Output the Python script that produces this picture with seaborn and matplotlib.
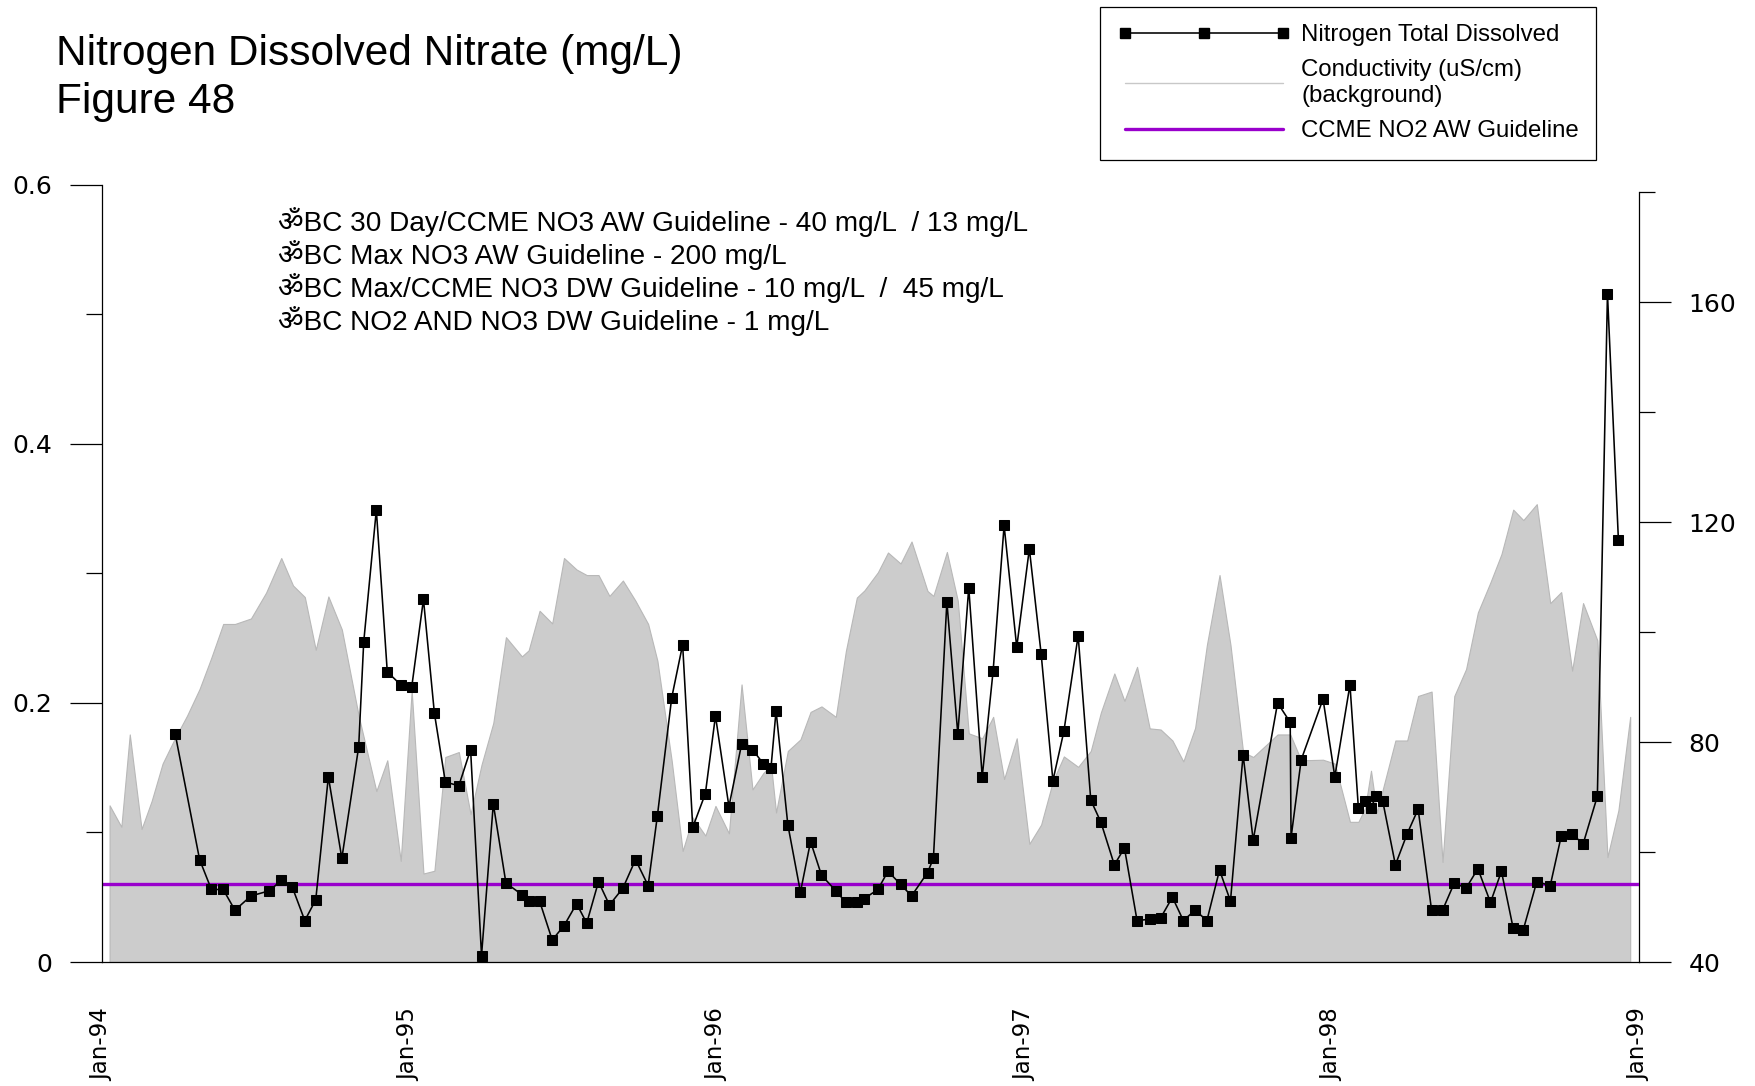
import matplotlib
matplotlib.use("Agg")
import matplotlib.pyplot as plt
import matplotlib.dates as mdates
from matplotlib.lines import Line2D
import seaborn as sns
import pandas as pd

# ---------------- data ----------------
n_dates = [
    "1994-03-29", "1994-04-27", "1994-05-11", "1994-05-25", "1994-06-08", "1994-06-27",
    "1994-07-19", "1994-08-02", "1994-08-15", "1994-08-30", "1994-09-12", "1994-09-27",
    "1994-10-13", "1994-11-02", "1994-11-08", "1994-11-23", "1994-12-06", "1994-12-22",
    "1995-01-04", "1995-01-18", "1995-01-31", "1995-02-13", "1995-03-01", "1995-03-15",
    "1995-03-28", "1995-04-11", "1995-04-26", "1995-05-15", "1995-05-23", "1995-06-05",
    "1995-06-20", "1995-07-04", "1995-07-19", "1995-07-31", "1995-08-14", "1995-08-27",
    "1995-09-12", "1995-09-27", "1995-10-12", "1995-10-23", "1995-11-09", "1995-11-22",
    "1995-12-04", "1995-12-19", "1995-12-31",
    "1996-01-16", "1996-01-31", "1996-02-13", "1996-02-26", "1996-03-06", "1996-03-12",
    "1996-03-26", "1996-04-10", "1996-04-22", "1996-05-05", "1996-05-22", "1996-06-03",
    "1996-06-16", "1996-06-25", "1996-07-11", "1996-07-23", "1996-08-07", "1996-08-20",
    "1996-09-08", "1996-09-15", "1996-10-01", "1996-10-14", "1996-10-27", "1996-11-12",
    "1996-11-25", "1996-12-08", "1996-12-23",
    "1997-01-07", "1997-01-21", "1997-02-04", "1997-02-17", "1997-03-06", "1997-03-21",
    "1997-04-02", "1997-04-18", "1997-04-30", "1997-05-15", "1997-05-30", "1997-06-12",
    "1997-06-26", "1997-07-09", "1997-07-23", "1997-08-06", "1997-08-21", "1997-09-03",
    "1997-09-18", "1997-09-30", "1997-10-29", "1997-11-13", "1997-11-14", "1997-11-26",
    "1997-12-22",
    "1998-01-05", "1998-01-23", "1998-02-02", "1998-02-10", "1998-02-17", "1998-02-23",
    "1998-03-03", "1998-03-18", "1998-04-01", "1998-04-14", "1998-04-30", "1998-05-13",
    "1998-05-27", "1998-06-10", "1998-06-24", "1998-07-09", "1998-07-22", "1998-08-05",
    "1998-08-17", "1998-09-02", "1998-09-18", "1998-10-01", "1998-10-14", "1998-10-27",
    "1998-11-13", "1998-11-25", "1998-12-08",
]
nitrogen = [
    0.176, 0.079, 0.056, 0.056, 0.040, 0.051, 0.055, 0.063, 0.058, 0.032, 0.048, 0.143,
    0.080, 0.166, 0.247, 0.349, 0.224, 0.214,
    0.212, 0.280, 0.192, 0.139, 0.136, 0.164, 0.005, 0.122, 0.061, 0.052, 0.047, 0.047,
    0.017, 0.028, 0.045, 0.030, 0.062, 0.044, 0.057, 0.079, 0.059, 0.113, 0.204, 0.245,
    0.104, 0.130, 0.190,
    0.120, 0.168, 0.164, 0.153, 0.150, 0.194, 0.106, 0.054, 0.093, 0.067, 0.055, 0.046,
    0.046, 0.049, 0.056, 0.070, 0.060, 0.051, 0.069, 0.080, 0.278, 0.176, 0.289, 0.143,
    0.225, 0.337, 0.243,
    0.319, 0.238, 0.140, 0.178, 0.252, 0.125, 0.108, 0.075, 0.088, 0.032, 0.033, 0.034,
    0.050, 0.032, 0.040, 0.032, 0.071, 0.047, 0.160, 0.094, 0.200, 0.185, 0.096, 0.156,
    0.203,
    0.143, 0.214, 0.119, 0.124, 0.119, 0.128, 0.124, 0.075, 0.099, 0.118, 0.040, 0.040,
    0.061, 0.057, 0.072, 0.046, 0.070, 0.026, 0.025, 0.062, 0.059, 0.097, 0.099, 0.091,
    0.128, 0.516, 0.326,
]

c_dates = [
    "1994-01-10", "1994-01-24", "1994-02-03", "1994-02-17", "1994-03-01", "1994-03-14",
    "1994-03-29", "1994-04-12", "1994-04-27", "1994-05-11", "1994-05-25", "1994-06-08",
    "1994-06-27", "1994-07-15", "1994-08-02", "1994-08-16", "1994-08-30", "1994-09-12",
    "1994-09-27", "1994-10-13", "1994-11-02", "1994-11-23", "1994-12-06", "1994-12-22",
    "1995-01-04", "1995-01-18", "1995-01-31", "1995-02-13", "1995-03-01", "1995-03-15",
    "1995-03-28", "1995-04-11", "1995-04-26", "1995-05-15", "1995-05-23", "1995-06-05",
    "1995-06-20", "1995-07-04", "1995-07-19", "1995-07-31", "1995-08-14", "1995-08-27",
    "1995-09-12", "1995-09-27", "1995-10-12", "1995-10-23", "1995-11-09", "1995-11-22",
    "1995-12-04", "1995-12-19", "1995-12-31",
    "1996-01-16", "1996-01-31", "1996-02-13", "1996-02-26", "1996-03-06", "1996-03-12",
    "1996-03-26", "1996-04-10", "1996-04-22", "1996-05-05", "1996-05-22", "1996-06-03",
    "1996-06-16", "1996-06-25", "1996-07-11", "1996-07-23", "1996-08-07", "1996-08-20",
    "1996-09-08", "1996-09-15", "1996-10-01", "1996-10-14", "1996-10-27", "1996-11-12",
    "1996-11-25", "1996-12-08", "1996-12-23",
    "1997-01-07", "1997-01-21", "1997-02-04", "1997-02-17", "1997-03-06", "1997-03-21",
    "1997-04-02", "1997-04-18", "1997-04-30", "1997-05-15", "1997-05-30", "1997-06-12",
    "1997-06-26", "1997-07-09", "1997-07-23", "1997-08-06", "1997-08-21", "1997-09-03",
    "1997-09-18", "1997-09-30", "1997-10-29", "1997-11-13", "1997-11-26", "1997-12-22",
    "1998-01-05", "1998-01-23", "1998-02-02", "1998-02-10", "1998-02-17", "1998-02-24",
    "1998-03-03", "1998-03-18", "1998-04-01", "1998-04-14", "1998-04-30", "1998-05-13",
    "1998-05-27", "1998-06-10", "1998-06-24", "1998-07-09", "1998-07-22", "1998-08-05",
    "1998-08-17", "1998-09-02", "1998-09-18", "1998-10-01", "1998-10-14", "1998-10-27",
    "1998-11-13", "1998-11-25", "1998-12-08", "1998-12-22",
]
conductivity = [
    68.5, 64.6, 81.4, 64.2, 69.3, 76.1, 80.8, 84.8, 89.7, 95.4, 101.5, 101.5,
    102.5, 107.2, 113.5, 108.5, 106.4, 96.8, 106.5, 100.5, 84.8, 71.1, 76.7, 58.4,
    89.4, 56.1, 56.6, 77.3, 78.2, 66.9, 75.9, 83.5, 99.1, 95.6, 96.7, 103.9,
    101.6, 113.5, 111.4, 110.4, 110.4, 106.6, 109.4, 105.7, 101.5, 94.8, 76.6, 60.2,
    66.3, 63.0, 68.4,
    63.4, 90.5, 71.4, 74.4, 75.9, 67.2, 78.4, 80.5, 85.5, 86.5, 84.6, 96.6,
    106.3, 107.6, 110.9, 114.5, 112.5, 116.5, 107.5, 106.6, 114.6, 105.7, 81.6, 80.7,
    84.6, 73.3, 80.7,
    61.5, 65.0, 72.9, 77.4, 75.5, 78.4, 85.4, 92.5, 87.5, 93.7, 82.5, 82.3,
    80.3, 76.5, 82.6, 97.7, 110.4, 97.7, 78.2, 77.3, 81.4, 81.4, 76.7, 76.8,
    76.1, 65.5, 65.5, 68.0, 74.8, 67.2, 71.4, 80.3, 80.3, 88.4, 89.2, 58.2,
    88.4, 93.3, 103.6, 109.1, 114.2, 122.3, 120.4, 123.3, 105.3, 107.3, 93.0, 105.3,
    98.5, 59.1, 67.6, 84.6,
]

guideline_value = 0.06
title_lines = ["Nitrogen Dissolved Nitrate (mg/L)", "Figure 48"]
notes = [
    "\u0950BC 30 Day/CCME NO3 AW Guideline - 40 mg/L  / 13 mg/L",
    "\u0950BC Max NO3 AW Guideline - 200 mg/L",
    "\u0950BC Max/CCME NO3 DW Guideline - 10 mg/L  /  45 mg/L",
    "\u0950BC NO2 AND NO3 DW Guideline - 1 mg/L",
]
legend_labels = ["Nitrogen Total Dissolved", "Conductivity (uS/cm)\n(background)",
                 "CCME NO2 AW Guideline"]
left_ticks = [0, 0.2, 0.4, 0.6]
left_tick_labels = ["0", "0.2", "0.4", "0.6"]
right_ticks = [40, 80, 120, 160]

# ---------------- style ----------------
sns.set_style("white")
plt.rcParams["font.family"] = ["Liberation Sans", "DejaVu Sans", "Noto Sans"]
plt.rcParams["text.color"] = "black"
plt.rcParams["axes.labelcolor"] = "black"
plt.rcParams["xtick.color"] = "black"
plt.rcParams["ytick.color"] = "black"

df_n = pd.DataFrame({"date": pd.to_datetime(n_dates), "value": nitrogen})
df_c = pd.DataFrame({"date": pd.to_datetime(c_dates), "value": conductivity})

W, H = 1756, 1086
fig = plt.figure(figsize=(W / 100, H / 100), dpi=100)
ax = fig.add_axes([102 / W, 1 - 962 / H, (1638.6 - 102) / W, (962 - 184.8) / H])
ax2 = ax.twinx()
ax.set_zorder(ax2.get_zorder() + 1)
ax.patch.set_visible(False)

# background conductivity area (right axis)
c_low = 40
c_high = 181.4
ax2.fill_between(df_c["date"], df_c["value"], c_low, color="#cccccc",
                 edgecolor="#b8b8b8", linewidth=0.8)
ax2.set_ylim(c_low, c_high)

# guideline
ax.axhline(guideline_value, color="#9900cc", linewidth=2.4, zorder=2)

# nitrogen series
sns.lineplot(data=df_n, x="date", y="value", ax=ax, color="black", linewidth=1.15,
             marker="s", markersize=7.8, markeredgecolor="black", markerfacecolor="black",
             estimator=None, sort=False, zorder=3, legend=False)

xmin, xmax = pd.Timestamp("1994-01-01"), pd.Timestamp("1999-01-01")
ax.set_xlim(xmin, xmax)
ax.set_ylim(0, 0.6)
ax.set_xlabel("")
ax.set_ylabel("")
ax2.set_ylabel("")

# x axis
ax.xaxis.set_major_locator(mdates.YearLocator())
ax.xaxis.set_minor_locator(mdates.MonthLocator(bymonth=7))
ax.xaxis.set_major_formatter(mdates.DateFormatter("%b-%y"))
ax.tick_params(axis="x", which="major", length=23, width=0.9, color="black",
               direction="out", pad=10, labelsize=16.5, labelcolor="black")
ax.tick_params(axis="x", which="minor", length=11.5, width=0.9, color="black",
               direction="out")
for lab in ax.get_xticklabels():
    lab.set_rotation(90)
    lab.set_fontfamily(["DejaVu Sans"])

# left y axis
ax.set_yticks(left_ticks)
ax.set_yticklabels(left_tick_labels, fontfamily=["DejaVu Sans"], fontsize=18)
ax.set_yticks([0.1, 0.3, 0.5], minor=True)
ax.tick_params(axis="y", which="major", length=23, width=0.9, color="black",
               direction="out", pad=13, labelcolor="black")
ax.tick_params(axis="y", which="minor", length=11.5, width=0.9, color="black",
               direction="out")

# right y axis
ax2.set_yticks(right_ticks)
ax2.set_yticklabels([str(t) for t in right_ticks], fontfamily=["DejaVu Sans"], fontsize=18)
ax2.set_yticks([60, 100, 140, 180], minor=True)
ax2.tick_params(axis="y", which="major", length=23, width=0.9, color="black",
                direction="out", pad=13, labelcolor="black")
ax2.tick_params(axis="y", which="minor", length=11.5, width=0.9, color="black",
                direction="out")

# spines
for s in ["top", "right"]:
    ax.spines[s].set_visible(False)
for s in ["top", "left", "bottom"]:
    ax2.spines[s].set_visible(False)
ax.spines["left"].set_bounds(0, 0.6)
ax2.spines["right"].set_bounds(c_low, 180)
for sp in [ax.spines["left"], ax.spines["bottom"], ax2.spines["right"]]:
    sp.set_color("black")
    sp.set_linewidth(0.9)

# titles
fig.text(56 / W, 1 - 65 / H, title_lines[0], fontsize=30.5, va="baseline", ha="left",
         color="black")
fig.text(56 / W, 1 - 113 / H, title_lines[1], fontsize=30.5, va="baseline", ha="left",
         color="black")

# guideline notes
note_y = [221.8, 255.4, 287.8, 321.4]
for txt, yy in zip(notes, note_y):
    fig.text(278 / W, 1 - yy / H, txt, fontsize=20.2, va="center", ha="left",
             color="black", family=["Liberation Sans", "DejaVu Sans", "Noto Sans"])

# legend
handles = [
    Line2D([0], [0], color="black", linewidth=1.15, marker="s", markersize=7.8),
    Line2D([0], [0], color="#c8c8c8", linewidth=1.0),
    Line2D([0], [0], color="#9900cc", linewidth=2.4),
]
leg = fig.legend(handles, legend_labels, loc="upper left",
                 bbox_to_anchor=(1100 / W, 1 - 6.7 / H), borderaxespad=0,
                 fontsize=17.3, frameon=True, fancybox=False, framealpha=1,
                 edgecolor="black", numpoints=3, handlelength=7.2,
                 handletextpad=0.45, borderpad=0.72, labelspacing=0.56)
leg.get_frame().set_linewidth(0.9)
for t in leg.get_texts():
    t.set_color("black")

fig.savefig("out.png", dpi=100)
